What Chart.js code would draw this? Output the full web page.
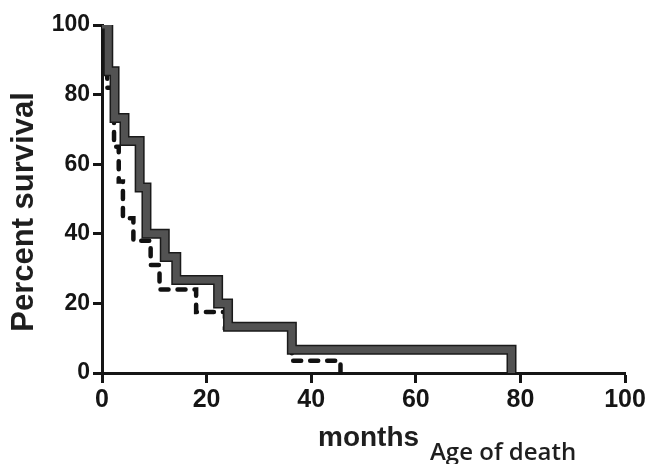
<!DOCTYPE html>
<html>
<head>
<meta charset="utf-8">
<script src="https://cdn.jsdelivr.net/npm/chart.js@4.4.1/dist/chart.umd.min.js"></script>
<style>
  html, body { margin: 0; padding: 0; background: #ffffff; }
  #wrap { width: 649px; height: 464px; position: relative; }
</style>
</head>
<body>
<div id="wrap"><canvas id="c" width="649" height="464"></canvas></div>
<script>
// ---- data ----
const solidMonths   = [0, 1.2, 2.4, 4.3, 7.2, 8.5, 12, 14.2, 22.2, 24.1, 36.3, 78.3];
const solidSurvival = [100, 86.7, 73.3, 66.7, 53.3, 40, 33.3, 26.7, 20, 13.3, 6.7, 0];

const dashedMonths   = [0, 1, 2.3, 3.2, 4, 6, 9.3, 11, 18, 23.5, 36.3, 45.6];
const dashedSurvival = [100, 82, 65, 55, 44.5, 38, 31, 24, 17.5, 13, 3.5, 0];

const xTickValues = [0, 20, 40, 60, 80, 100];
const yTickValues = [0, 20, 40, 60, 80, 100];

const yTitle = 'Percent survival';
const xTitle = 'months';
const xNote  = 'Age of death';

function toPoints(xs, ys) { return xs.map((x, i) => ({ x: x, y: ys[i] })); }

const titlesPlugin = {
  id: 'titles',
  afterDraw(chart) {
    const ctx = chart.ctx;
    ctx.save();
    ctx.fillStyle = '#1e1e1e';
    ctx.save();
    ctx.translate(33, 212);
    ctx.rotate(-Math.PI / 2);
    ctx.font = 'bold 31px "Liberation Sans", Arial, sans-serif';
    ctx.textAlign = 'center';
    ctx.textBaseline = 'alphabetic';
    ctx.fillText(yTitle, 0, 0);
    ctx.restore();
    ctx.font = 'bold 28px "Liberation Sans", Arial, sans-serif';
    ctx.textAlign = 'left';
    ctx.textBaseline = 'alphabetic';
    ctx.fillText(xTitle, 318, 446);
    ctx.font = '600 24px "Open Sans", sans-serif';
    ctx.fillText(xNote, 430, 460);
    ctx.restore();
  }
};

const common = { stepped: 'before', pointRadius: 0, pointHoverRadius: 0, fill: false, tension: 0,
                 clip: { left: 10, right: 10, top: 0, bottom: 10 } };

new Chart(document.getElementById('c'), {
  type: 'line',
  data: {
    datasets: [
      Object.assign({}, common, {
        label: 'solid-inner',
        data: toPoints(solidMonths, solidSurvival),
        borderColor: '#525252',
        borderWidth: 7,
        borderJoinStyle: 'miter',
        borderCapStyle: 'butt'
      }),
      Object.assign({}, common, {
        label: 'solid-outer',
        data: toPoints(solidMonths, solidSurvival),
        borderColor: '#1a1a1a',
        borderWidth: 10,
        borderJoinStyle: 'miter',
        borderCapStyle: 'butt'
      }),
      Object.assign({}, common, {
        label: 'dashed',
        data: toPoints(dashedMonths, dashedSurvival),
        borderColor: '#111111',
        borderWidth: 4.5,
        borderDash: [8, 9],
        borderJoinStyle: 'miter',
        borderCapStyle: 'round'
      })
    ]
  },
  options: {
    responsive: false,
    animation: false,
    events: [],
    layout: { padding: { left: 0, right: 24, top: 25, bottom: 0 } },
    plugins: { legend: { display: false }, tooltip: { enabled: false } },
    scales: {
      x: {
        type: 'linear',
        min: 0, max: 100,
        afterBuildTicks(scale) { scale.ticks = xTickValues.map(v => ({ value: v })); },
        afterFit(scale) { scale.height = 464 - 373; },
        border: { display: true, color: '#151515', width: 3 },
        grid: { display: true, drawOnChartArea: false, drawTicks: true, tickLength: 10, tickWidth: 3, tickColor: '#151515' },
        ticks: {
          color: '#151515',
          padding: 2,
          maxRotation: 0,
          font: { family: '"Liberation Sans", Arial, sans-serif', size: 25, weight: 'bold' }
        },
        title: { display: false }
      },
      y: {
        type: 'linear',
        min: 0, max: 100,
        afterBuildTicks(scale) { scale.ticks = yTickValues.map(v => ({ value: v })); },
        afterFit(scale) { scale.width = 102; },
        border: { display: true, color: '#151515', width: 3 },
        grid: { display: true, drawOnChartArea: false, drawTicks: true, tickLength: 9, tickWidth: 3, tickColor: '#151515' },
        ticks: {
          color: '#151515',
          padding: 3,
          font: { family: '"Liberation Sans", Arial, sans-serif', size: 23, weight: 'bold' }
        },
        title: { display: false }
      }
    }
  },
  plugins: [titlesPlugin]
});
</script>
</body>
</html>
